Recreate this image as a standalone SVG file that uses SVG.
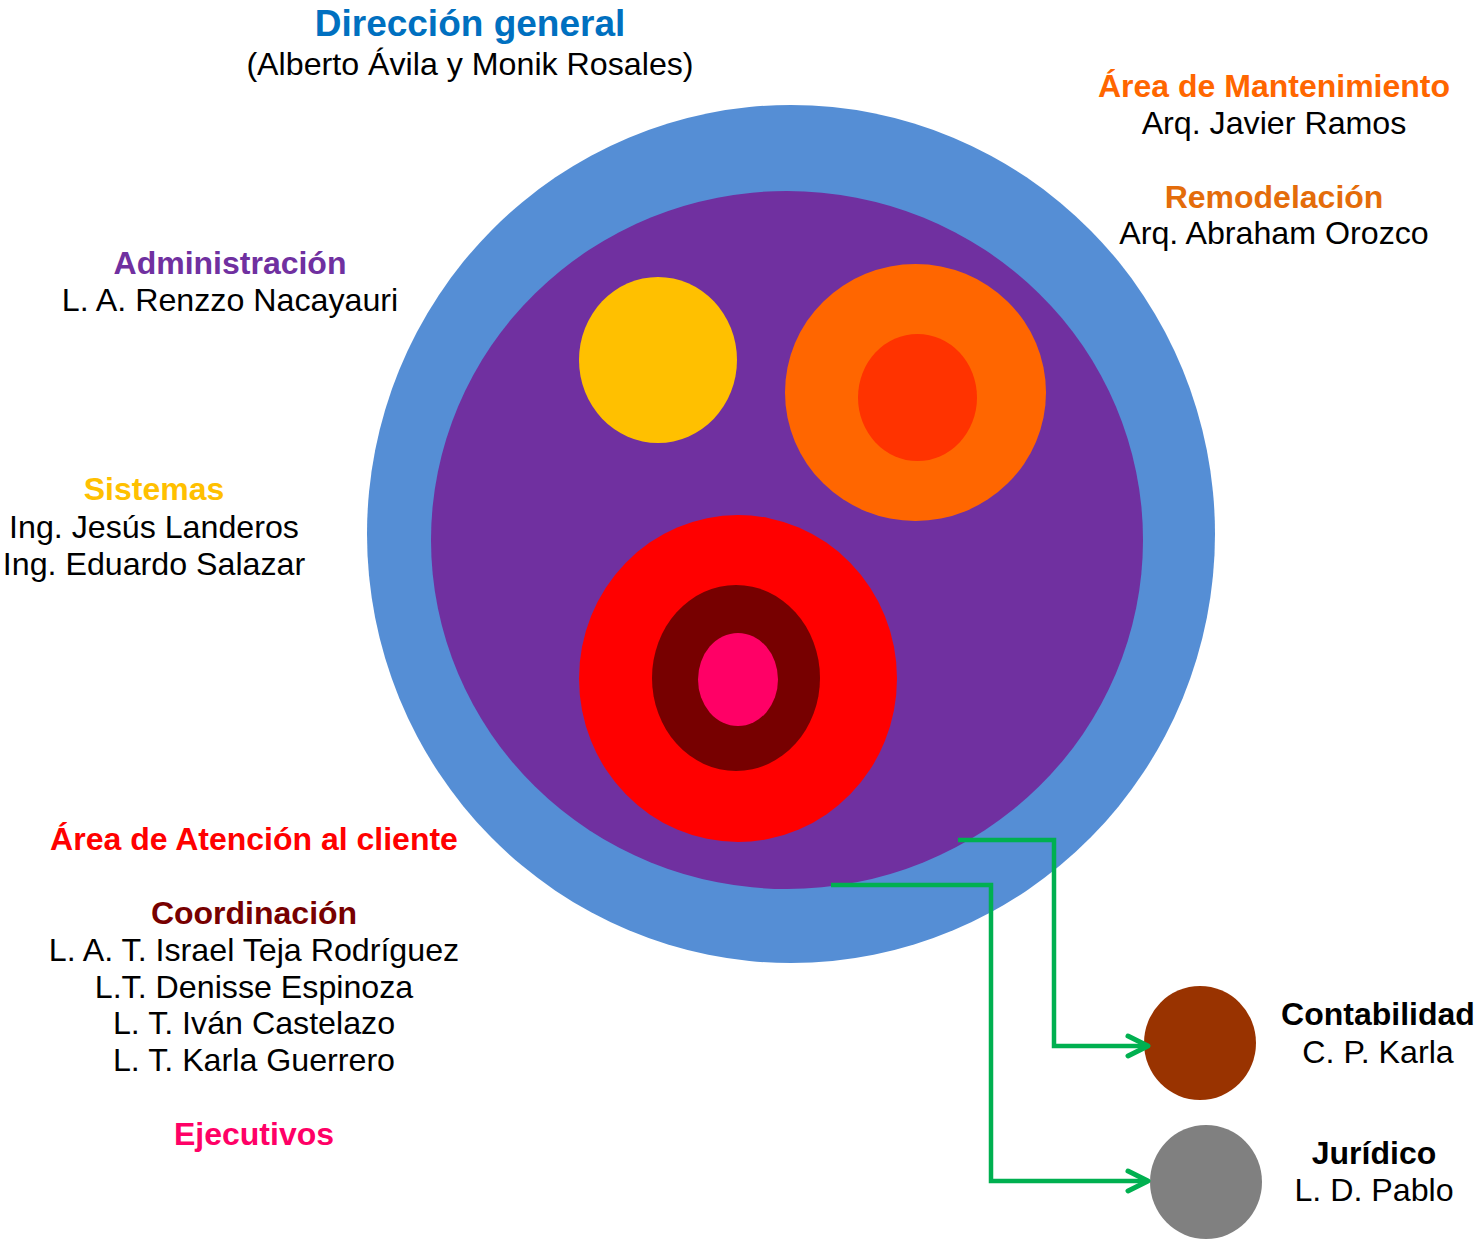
<svg xmlns="http://www.w3.org/2000/svg" width="1475" height="1241" viewBox="0 0 1475 1241">
<style>
text{font-family:"Liberation Sans",Arial,sans-serif;text-anchor:middle;font-size:32.2px;fill:#000}
.b{font-weight:bold;font-size:32px}
.t{font-size:37px}
.conn{fill:none;stroke:#00B050;stroke-width:4.5}
</style>
<defs>
<marker id="arr" viewBox="-24 -14 28 28" refX="0" refY="0" markerWidth="28" markerHeight="28" markerUnits="userSpaceOnUse" orient="auto">
<path d="M-20,-10 L0,0 L-20,10" fill="none" stroke="#00B050" stroke-width="5" stroke-linecap="round" stroke-linejoin="round"/>
</marker>
</defs>
<rect width="1475" height="1241" fill="#fff"/>
<g id="direccion">
<ellipse cx="791" cy="534" rx="424" ry="429" fill="#558ED5"/>
<text class="b t" x="470" y="36" style="fill:#0070C0">Dirección general</text>
<text x="470" y="75">(Alberto Ávila y Monik Rosales)</text>
</g>
<g id="administracion">
<ellipse cx="787" cy="540" rx="356" ry="349" fill="#7030A0"/>
<text class="b" x="230" y="274" style="fill:#7030A0">Administración</text>
<text x="230" y="311">L. A. Renzzo Nacayauri</text>
</g>
<g id="sistemas">
<ellipse cx="658" cy="360" rx="79" ry="83" fill="#FFC000"/>
<text class="b" x="154" y="500" style="fill:#FFC000">Sistemas</text>
<text x="154" y="538">Ing. Jesús Landeros</text>
<text x="154" y="575">Ing. Eduardo Salazar</text>
</g>
<g id="mantenimiento">
<ellipse cx="915.5" cy="392.5" rx="130.5" ry="128.5" fill="#FF6600"/>
<text class="b" x="1274" y="97" style="fill:#FF6600">Área de Mantenimiento</text>
<text x="1274" y="134">Arq. Javier Ramos</text>
</g>
<g id="remodelacion">
<ellipse cx="917.5" cy="397.5" rx="59.5" ry="63.5" fill="#FF3300"/>
<text class="b" x="1274" y="208" style="fill:#E46C0A">Remodelación</text>
<text x="1274" y="244">Arq. Abraham Orozco</text>
</g>
<g id="atencion">
<ellipse cx="738" cy="678.5" rx="159" ry="163.5" fill="#FF0000"/>
<text class="b" x="254" y="850" style="fill:#FF0000">Área de Atención al cliente</text>
</g>
<g id="coordinacion">
<ellipse cx="736" cy="678" rx="84" ry="93" fill="#770000"/>
<text class="b" x="254" y="924" style="fill:#770000">Coordinación</text>
<text x="254" y="961">L. A. T. Israel Teja Rodríguez</text>
<text x="254" y="998">L.T. Denisse Espinoza</text>
<text x="254" y="1034">L. T. Iván Castelazo</text>
<text x="254" y="1071">L. T. Karla Guerrero</text>
</g>
<g id="ejecutivos">
<ellipse cx="738" cy="679.5" rx="40" ry="46.5" fill="#FF0066"/>
<text class="b" x="254" y="1145" style="fill:#FF0066">Ejecutivos</text>
</g>
<g id="contabilidad">
<ellipse cx="1200" cy="1043" rx="56" ry="57" fill="#993300"/>
<text class="b" x="1378" y="1025">Contabilidad</text>
<text x="1378" y="1063">C. P. Karla</text>
</g>
<g id="juridico">
<ellipse cx="1206" cy="1182" rx="56" ry="57" fill="#808080"/>
<text class="b" x="1374" y="1164">Jurídico</text>
<text x="1374" y="1201">L. D. Pablo</text>
</g>
<g id="connectors">
<path class="conn" d="M958,840 H1054 V1046 H1148" marker-end="url(#arr)"/>
<path class="conn" d="M831,885 H991 V1181 H1148" marker-end="url(#arr)"/>
</g>
</svg>
